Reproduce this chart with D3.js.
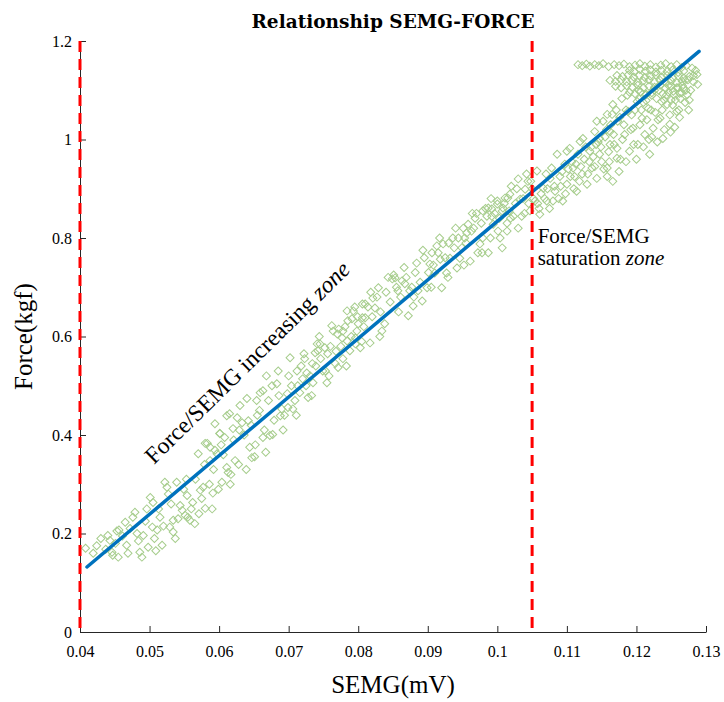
<!DOCTYPE html>
<html>
<head>
<meta charset="utf-8">
<script src="https://cdn.jsdelivr.net/npm/d3@7"></script>
<style>
  body { margin: 0; background: #fff; }
  text { font-family: "Liberation Serif", "DejaVu Serif", serif; fill: #000; }
</style>
</head>
<body>
<div id="chart"></div>
<script>
// measured samples, [SEMG (mV), Force (kgf)]
var samples = [
  [0.0408,0.170],[0.0419,0.160],[0.0430,0.190],[0.0440,0.196],[0.0443,0.186],[0.0446,0.162],[0.0447,0.156],
  [0.0455,0.152],[0.0456,0.207],[0.0465,0.223],[0.0467,0.176],[0.0476,0.233],[0.0479,0.243],[0.0482,0.200],
  [0.0486,0.162],[0.0489,0.152],[0.0491,0.196],[0.0498,0.172],[0.0501,0.273],[0.0504,0.213],[0.0505,0.263],
  [0.0511,0.207],[0.0515,0.233],[0.0518,0.176],[0.0522,0.304],[0.0525,0.294],[0.0529,0.213],[0.0534,0.227],
  [0.0534,0.203],[0.0539,0.304],[0.0544,0.257],[0.0547,0.247],[0.0551,0.237],[0.0554,0.277],[0.0555,0.233],
  [0.0558,0.227],[0.0562,0.263],[0.0570,0.362],[0.0573,0.288],[0.0575,0.271],[0.0577,0.294],[0.0580,0.251],
  [0.0583,0.383],[0.0587,0.348],[0.0591,0.282],[0.0594,0.369],[0.0597,0.362],[0.0601,0.403],[0.0604,0.304],
  [0.0611,0.334],[0.0613,0.324],[0.0580,0.383],[0.0587,0.375],[0.0594,0.423],[0.0601,0.403],[0.0608,0.395],
  [0.0611,0.439],[0.0615,0.443],[0.0620,0.413],[0.0623,0.348],[0.0626,0.435],[0.0630,0.460],[0.0633,0.425],
  [0.0640,0.474],[0.0642,0.429],[0.0644,0.375],[0.0647,0.354],[0.0651,0.356],[0.0654,0.470],[0.0659,0.486],
  [0.0663,0.490],[0.0663,0.395],[0.0668,0.520],[0.0673,0.399],[0.0677,0.401],[0.0683,0.504],[0.0685,0.530],
  [0.0688,0.439],[0.0690,0.453],[0.0698,0.484],[0.0699,0.456],[0.0702,0.557],[0.0706,0.453],[0.0712,0.530],
  [0.0713,0.500],[0.0716,0.486],[0.0720,0.514],[0.0723,0.555],[0.0726,0.526],[0.0728,0.476],[0.0734,0.545],
  [0.0735,0.506],[0.0738,0.567],[0.0741,0.585],[0.0742,0.571],[0.0745,0.585],[0.0749,0.530],[0.0752,0.577],
  [0.0755,0.506],[0.0756,0.565],[0.0762,0.622],[0.0764,0.611],[0.0767,0.545],[0.0770,0.605],[0.0771,0.537],
  [0.0777,0.597],[0.0778,0.555],[0.0784,0.591],[0.0785,0.632],[0.0788,0.571],[0.0793,0.652],[0.0796,0.585],
  [0.0798,0.611],[0.0803,0.577],[0.0806,0.638],[0.0810,0.666],
  [0.0778,0.611],[0.0784,0.652],[0.0791,0.636],[0.0796,0.597],[0.0800,0.626],[0.0806,0.666],[0.0810,0.638],
  [0.0817,0.587],[0.0821,0.678],[0.0824,0.658],[0.0829,0.699],[0.0834,0.611],[0.0838,0.626],[0.0849,0.717],
  [0.0853,0.719],[0.0857,0.693],[0.0863,0.713],[0.0867,0.707],[0.0872,0.642],[0.0874,0.693],[0.0879,0.662],
  [0.0884,0.749],[0.0886,0.693],[0.0892,0.672],[0.0899,0.699],[0.0903,0.747],[0.0906,0.770],[0.0910,0.729],
  [0.0913,0.784],[0.0918,0.757],[0.0920,0.699],[0.0922,0.788],[0.0927,0.729],[0.0932,0.759],[0.0936,0.800],
  [0.0942,0.739],[0.0946,0.759],[0.0951,0.820],[0.0953,0.800],[0.0958,0.828],[0.0961,0.753],[0.0963,0.814],
  [0.0968,0.840],[0.0972,0.770],[0.0975,0.788],[0.0979,0.800],[0.0985,0.844],[0.0987,0.770],[0.0992,0.859],
  [0.0994,0.828],[0.1000,0.869],[0.1001,0.814],[0.1007,0.780],[0.1008,0.861],[0.1014,0.814],[0.1015,0.881],
  [0.0955,0.790],[0.0990,0.800],
  [0.0979,0.855],[0.0987,0.861],[0.0992,0.844],[0.1000,0.875],[0.1007,0.855],[0.1011,0.881],[0.1014,0.830],
  [0.1018,0.889],[0.1023,0.844],[0.1030,0.820],[0.1033,0.879],[0.1035,0.844],[0.1040,0.899],[0.1044,0.915],
  [0.1047,0.855],[0.1054,0.875],[0.1057,0.936],[0.1061,0.848],[0.1066,0.901],[0.1071,0.875],[0.1076,0.921],
  [0.1078,0.942],[0.1083,0.895],[0.1086,0.970],[0.1090,0.925],[0.1094,0.875],[0.1097,0.950],[0.1100,0.909],
  [0.1104,0.982],[0.1109,0.942],[0.1114,0.895],[0.1116,0.970],[0.1122,0.930],[0.1123,1.002],[0.1129,0.909],
  [0.1133,0.976],[0.1136,0.942],[0.1140,1.016],[0.1143,0.921],[0.1147,0.970],[0.1152,1.037],[0.1158,0.942],
  [0.1162,0.990],[0.1165,1.051],[0.1166,0.915],[0.1172,0.962],
  [0.1020,0.905],[0.1030,0.920],[0.1042,0.930],
  [0.1060,0.860],[0.1068,0.880],[0.1075,0.860],[0.1082,0.905],[0.1088,0.880],[0.1093,0.935],[0.1098,0.890],
  [0.1105,0.925],[0.1110,0.900],[0.1113,0.950],[0.1118,0.915],[0.1125,0.960],[0.1130,0.930],[0.1135,0.985],
  [0.1140,0.945],[0.1145,0.995],[0.1150,0.955],[0.1155,1.005],[0.1160,0.975],[0.1163,1.030],[0.1168,0.990],
  [0.1176,1.045],[0.1180,1.000],[0.1185,1.060],[0.1192,1.020],[0.1198,1.060],[0.1205,1.030],[0.1210,1.075],
  [0.1215,1.040],[0.1222,1.090],[0.1227,1.055],[0.1232,1.100],[0.1240,1.080],[0.1246,1.110],[0.1252,1.070],
  [0.1260,1.105],[0.1270,1.120],[0.1278,1.100],
  [0.1100,0.976],[0.1119,0.996],[0.1143,1.037],[0.1147,1.002],[0.1158,1.051],[0.1162,1.016],[0.1166,1.071],
  [0.1172,0.982],[0.1173,1.037],[0.1179,1.083],[0.1183,1.010],[0.1188,1.057],[0.1190,0.976],[0.1195,1.023],
  [0.1201,1.077],[0.1202,0.990],[0.1208,1.043],[0.1212,1.010],[0.1217,1.063],[0.1219,0.970],[0.1224,1.023],
  [0.1229,1.083],[0.1234,1.043],[0.1238,1.002],[0.1244,1.071],[0.1248,1.031],[0.1253,1.098],[0.1258,1.057],
  [0.1263,1.083],[0.1267,1.104],[0.1273,1.091],[0.1287,1.132],[0.1288,1.112],
  // second pass along the band
  [0.0424,0.175],[0.0437,0.168],[0.0451,0.180],[0.0461,0.195],[0.0472,0.210],[0.0484,0.185],[0.0494,0.225],
  [0.0507,0.190],[0.0513,0.250],[0.0520,0.215],[0.0531,0.260],[0.0541,0.230],[0.0549,0.290],[0.0560,0.250],
  [0.0566,0.310],[0.0571,0.240],[0.0586,0.300],[0.0592,0.330],[0.0599,0.290],[0.0606,0.360],[0.0617,0.320],
  [0.0621,0.390],[0.0628,0.340],[0.0636,0.400],[0.0646,0.420],[0.0652,0.380],[0.0658,0.450],[0.0665,0.410],
  [0.0671,0.470],[0.0679,0.430],[0.0686,0.480],[0.0694,0.440],[0.0704,0.500],[0.0709,0.470],[0.0718,0.540],
  [0.0725,0.500],[0.0731,0.520],[0.0739,0.540],[0.0746,0.555],[0.0753,0.530],[0.0760,0.580],[0.0768,0.570],
  [0.0775,0.580],[0.0781,0.620],[0.0790,0.600],[0.0799,0.640],[0.0808,0.620],[0.0814,0.660],[0.0820,0.640],
  [0.0827,0.680],[0.0832,0.650],[0.0840,0.690],[0.0846,0.670],[0.0851,0.725],[0.0855,0.700],[0.0861,0.680],
  [0.0869,0.720],[0.0877,0.700],[0.0882,0.730],[0.0889,0.710],[0.0895,0.760],[0.0901,0.730],[0.0908,0.745],
  [0.0915,0.770],[0.0925,0.760],[0.0930,0.790],[0.0938,0.780],[0.0944,0.800],[0.0949,0.780],[0.0956,0.810],
  [0.0966,0.820],[0.0970,0.850],[0.0977,0.830],[0.0983,0.860],[0.0996,0.850],[0.1003,0.840],[0.1010,0.870],
  [0.1017,0.855],[0.1026,0.870],[0.1037,0.880],[0.1045,0.870],[0.1050,0.900],[0.1052,0.880],[0.1063,0.890],
  [0.1072,0.900],[0.1080,0.875],[0.1091,0.905],[0.1102,0.940],[0.1107,0.955],[0.1111,0.925],[0.1120,0.945],
  [0.1127,0.985],[0.1132,0.955],[0.1138,0.965],[0.1142,0.990],[0.1149,0.985],[0.1153,0.940],[0.1157,1.020],
  [0.1161,0.955],[0.1167,1.010],[0.1171,1.060],[0.1177,0.960],[0.1182,1.030],[0.1187,1.090],[0.1193,1.050],
  [0.1196,0.990],[0.1203,1.100],[0.1207,1.060],[0.1213,1.090],[0.1218,1.000],[0.1221,1.060],[0.1226,1.100],
  [0.1231,1.040],[0.1237,1.060],[0.1243,1.090],[0.1249,1.015],[0.1256,1.080],[0.1261,1.060],[0.1265,1.095],
  [0.1271,1.100],[0.1276,1.080],[0.1282,1.130],[0.1285,1.140],
  // third pass, band edges
  [0.0453,0.205],[0.0469,0.160],[0.0496,0.250],[0.0509,0.165],[0.0527,0.280],[0.0537,0.190],[0.0553,0.310],
  [0.0565,0.220],[0.0579,0.340],[0.0590,0.250],[0.0603,0.380],[0.0616,0.300],[0.0629,0.410],[0.0639,0.330],
  [0.0655,0.440],[0.0667,0.365],[0.0676,0.500],[0.0692,0.410],[0.0700,0.520],[0.0711,0.440],[0.0722,0.565],
  [0.0733,0.480],[0.0744,0.600],[0.0758,0.520],[0.0772,0.615],[0.0783,0.540],[0.0795,0.660],[0.0805,0.590],
  [0.0818,0.690],[0.0831,0.600],[0.0843,0.720],[0.0858,0.650],[0.0866,0.740],[0.0880,0.680],[0.0893,0.775],
  [0.0905,0.700],[0.0917,0.800],[0.0929,0.720],[0.0940,0.820],[0.0952,0.745],[0.0964,0.850],[0.0978,0.770],
  [0.0991,0.880],[0.1004,0.800],[0.1019,0.840],[0.1028,0.900],[0.1039,0.850],[0.1048,0.915],[0.1058,0.870],
  [0.1070,0.930],
  // saturation plateau, top row
  [0.1116,1.152],[0.1122,1.150],[0.1128,1.153],[0.1133,1.149],[0.1140,1.152],[0.1146,1.150],[0.1152,1.154],
  [0.1160,1.148],[0.1168,1.152],[0.1175,1.150],[0.1182,1.153],[0.1190,1.148],[0.1198,1.151],[0.1205,1.154],
  [0.1212,1.149],[0.1220,1.152],[0.1228,1.147],[0.1235,1.151],[0.1242,1.154],[0.1250,1.148],[0.1258,1.152],
  [0.1265,1.146],[0.1272,1.150],[0.1280,1.145],
  // saturation plateau, dense block
  [0.1190,1.140],[0.1197,1.138],[0.1205,1.142],[0.1213,1.139],[0.1220,1.141],[0.1228,1.137],[0.1236,1.140],
  [0.1244,1.138],[0.1252,1.141],[0.1260,1.136],[0.1268,1.139],
  [0.1172,1.130],[0.1180,1.128],[0.1188,1.131],[0.1196,1.127],[0.1204,1.130],[0.1212,1.126],[0.1220,1.129],
  [0.1228,1.131],[0.1236,1.127],[0.1244,1.130],[0.1252,1.126],[0.1260,1.129],[0.1268,1.125],[0.1276,1.128],
  [0.1162,1.120],[0.1170,1.118],[0.1178,1.121],[0.1186,1.117],[0.1194,1.120],[0.1202,1.116],[0.1210,1.119],
  [0.1218,1.121],[0.1226,1.117],[0.1234,1.120],[0.1242,1.116],[0.1250,1.119],[0.1258,1.115],[0.1266,1.118],
  [0.1274,1.121],[0.1282,1.117],
  [0.1170,1.108],[0.1178,1.105],[0.1186,1.109],[0.1194,1.106],[0.1202,1.110],[0.1210,1.105],[0.1218,1.108],
  [0.1226,1.106],[0.1234,1.110],[0.1242,1.104],[0.1250,1.108],[0.1258,1.105],[0.1266,1.109],
  [0.1190,1.096],[0.1198,1.093],[0.1206,1.097],[0.1214,1.092],[0.1222,1.095],[0.1238,1.093],[0.1246,1.096],
  [0.1254,1.091],[0.1262,1.094],
  [0.1204,1.082],[0.1214,1.079],[0.1236,1.077],[0.1250,1.080],[0.1270,1.075],[0.1275,1.060],[0.1262,1.045],
  [0.1248,1.050],[0.1255,1.025],[0.1240,1.020],[0.1230,0.995],[0.1222,1.005],[0.1210,0.985],[0.1200,0.960],
  [0.1185,0.955],[0.1175,0.935],[0.1158,0.925]
];

// least squares fit drawn over the data
var fitSemg = [0.041, 0.129];
var fitForce = [0.132, 1.179];

// zone limits
var zoneLimits = [0.04, 0.105];

var xTicks = [0.04, 0.05, 0.06, 0.07, 0.08, 0.09, 0.1, 0.11, 0.12, 0.13];
var yTicks = [0, 0.2, 0.4, 0.6, 0.8, 1, 1.2];

var W = 724, H = 702;
var mLeft = 80, mRight = 706, mTop = 41, mBottom = 632;

var svg = d3.select("#chart").append("svg")
  .attr("width", W)
  .attr("height", H);

var x = d3.scaleLinear().domain([0.04, 0.13]).range([mLeft, mRight]);
var y = d3.scaleLinear().domain([0, 1.2]).range([mBottom, mTop]);

// scatter (diamonds)
var diamond = d3.symbol().type(d3.symbolSquare).size(32);
svg.append("g")
  .selectAll("path")
  .data(samples)
  .enter().append("path")
  .attr("d", diamond)
  .attr("transform", function(d) {
    return "translate(" + x(d[0]) + "," + y(d[1]) + ") rotate(45)";
  })
  .attr("fill", "none")
  .attr("stroke", "#a6cd8c")
  .attr("stroke-width", 1);

// fit line
svg.append("line")
  .attr("x1", x(fitSemg[0])).attr("y1", y(fitForce[0]))
  .attr("x2", x(fitSemg[1])).attr("y2", y(fitForce[1]))
  .attr("stroke", "#0072bd")
  .attr("stroke-width", 3.5)
  .attr("stroke-linecap", "round");

// axes
var xAxis = d3.axisBottom(x)
  .tickValues(xTicks)
  .tickFormat(function(d) { return String(+d.toFixed(2)); })
  .tickSizeInner(-6)
  .tickSizeOuter(0)
  .tickPadding(14);

var yAxis = d3.axisLeft(y)
  .tickValues(yTicks)
  .tickFormat(function(d) { return String(+d.toFixed(1)); })
  .tickSizeInner(-6)
  .tickSizeOuter(0)
  .tickPadding(8);

var gx = svg.append("g")
  .attr("transform", "translate(0," + mBottom + ")")
  .call(xAxis);
var gy = svg.append("g")
  .attr("transform", "translate(" + mLeft + ",0)")
  .call(yAxis);

[gx, gy].forEach(function(g) {
  g.selectAll("path, line").attr("stroke", "#262626");
  g.selectAll("text")
    .style("font-family", "'Liberation Serif', serif")
    .style("font-size", "16px")
    .attr("fill", "#262626");
});

// dashed zone limits
svg.append("g")
  .selectAll("line")
  .data(zoneLimits)
  .enter().append("line")
  .attr("x1", function(d) { return x(d); })
  .attr("x2", function(d) { return x(d); })
  .attr("y1", y(1.2))
  .attr("y2", y(0))
  .attr("stroke", "#ff0000")
  .attr("stroke-width", 3)
  .attr("stroke-dasharray", "11,7");

// title
svg.append("text")
  .attr("x", (mLeft + mRight) / 2)
  .attr("y", 28)
  .attr("text-anchor", "middle")
  .style("font-family", "'DejaVu Serif', serif")
  .style("font-size", "18.5px")
  .style("font-weight", "bold")
  .text("Relationship SEMG-FORCE");

// axis labels
svg.append("text")
  .attr("x", (mLeft + mRight) / 2)
  .attr("y", 693)
  .attr("text-anchor", "middle")
  .style("font-size", "25px")
  .text("SEMG(mV)");

svg.append("text")
  .attr("transform", "translate(32," + ((mTop + mBottom) / 2) + ") rotate(-90)")
  .attr("text-anchor", "middle")
  .style("font-size", "25px")
  .text("Force(kgf)");

// zone annotations
var inc = svg.append("text")
  .attr("transform", "translate(154,465) rotate(-44.5)")
  .style("font-size", "23.5px");
inc.append("tspan").text("Force/SEMG increasing ");
inc.append("tspan").style("font-style", "italic").text("zone");

svg.append("text")
  .attr("x", x(0.1058))
  .attr("y", y(0.79))
  .style("font-size", "21px")
  .text("Force/SEMG");

var sat = svg.append("text")
  .attr("x", x(0.1058))
  .attr("y", y(0.745))
  .style("font-size", "21px");
sat.append("tspan").text("saturation ");
sat.append("tspan").style("font-style", "italic").text("zone");
</script>
</body>
</html>
